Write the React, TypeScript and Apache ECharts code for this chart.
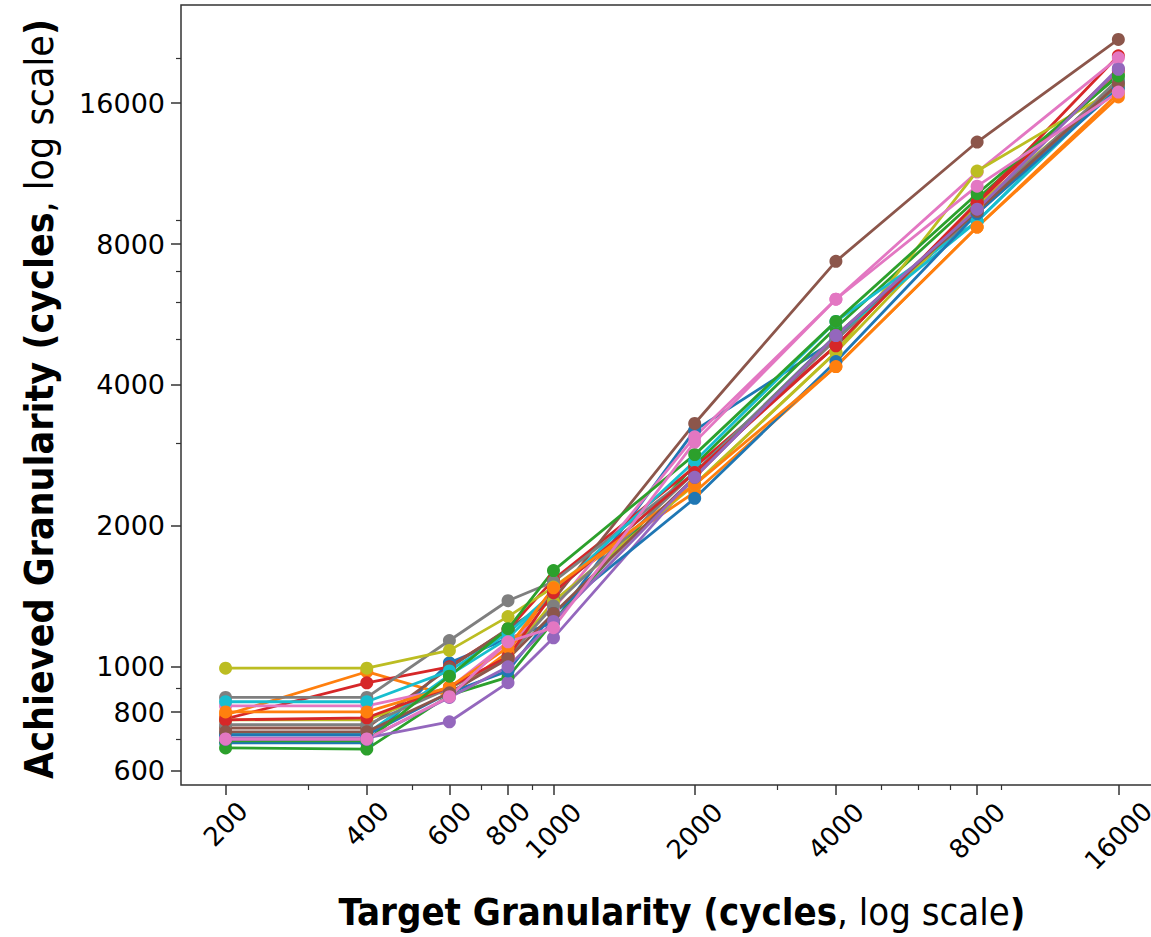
import React, { useEffect, useRef } from 'react';
import * as echarts from 'echarts';

// Target granularities (x values, cycles)
const targets = [200, 400, 600, 800, 1000, 2000, 4000, 8000, 16000];

// Tick values
const xLabels3 = [200, 400, 600, 800];
const xLabels4 = [1000, 2000, 4000, 8000];
const xLabels5 = [16000];
const xMajorTicks = [200, 400, 600, 800, 1000, 2000, 4000, 8000, 16000];
const xMinorTicks = [300, 500, 700, 900, 3000, 5000, 6000, 7000, 9000];
const yMajorTicks = [600, 800, 1000, 2000, 4000, 8000, 16000];
const yMinorTicks = [700, 900, 3000, 5000, 6000, 7000, 9000, 20000];

// Axis limits (cycles)
const xLimits = [160.7, 19920];
const yLimits = [559, 25940];

// Achieved granularity per run (y values, cycles)
const blue1 = [688, 688, 1020, 1150, 1242, 3200, 5000, 9500, 17800];
const orange1 = [789, 976, 868, 1076, 1475, 2360, 4380, 8700, 16500];
const green1 = [671, 667, 870, 950, 1250, 2700, 5300, 10000, 18400];
const red1 = [774, 924, 1000, 1200, 1535, 2670, 4850, 9800, 20200];
const purple1 = [705, 705, 763, 925, 1153, 2540, 5080, 9500, 19000];
const brown1 = [740, 740, 995, 1206, 1392, 3310, 7350, 13220, 21900];
const pink1 = [825, 825, 900, 1131, 1330, 3100, 6100, 11400, 20000];
const gray1 = [860, 860, 1138, 1384, 1520, 2600, 5000, 9300, 18000];
const olive1 = [993, 993, 1084, 1280, 1480, 2450, 4700, 11460, 17300];
const cyan1 = [842, 842, 980, 1180, 1440, 2750, 5470, 8950, 17500];
const olive2 = [770, 770, 900, 1050, 1380, 2450, 4700, 9700, 17500];
const cyan2 = [720, 720, 960, 1150, 1440, 2600, 5100, 8950, 17800];
const gray2 = [752, 752, 900, 1050, 1350, 2600, 5100, 9500, 17800];
const red2 = [770, 778, 905, 1050, 1440, 2600, 4850, 9800, 18800];
const blue2 = [715, 715, 880, 980, 1300, 2290, 4490, 9300, 17200];
const orange2 = [801, 801, 905, 1100, 1475, 2450, 4380, 8700, 16800];
const brown2 = [726, 726, 880, 1040, 1300, 2540, 5100, 9400, 17600];
const green2 = [695, 695, 955, 1206, 1605, 2840, 5470, 10250, 18300];
const purple2 = [700, 700, 860, 1000, 1250, 2540, 5100, 9500, 18900];
const pink2 = [701, 701, 863, 1131, 1212, 3020, 6100, 10640, 16900];

// Runs in drawing order, with their colour names
const runs = [
  blue1, orange1, green1, red1, purple1, brown1, pink1, gray1, olive1, cyan1,
  olive2, cyan2, gray2, red2, blue2, orange2, brown2, green2, purple2, pink2,
];
const runColors = [
  'blue', 'orange', 'green', 'red', 'purple', 'brown', 'pink', 'gray', 'olive', 'cyan',
  'olive', 'cyan', 'gray', 'red', 'blue', 'orange', 'brown', 'green', 'purple', 'pink',
];

const palette: Record<string, string> = {
  blue: '#1f77b4', orange: '#ff7f0e', green: '#2ca02c', red: '#d62728', purple: '#9467bd',
  brown: '#8c564b', pink: '#e377c2', gray: '#7f7f7f', olive: '#bcbd22', cyan: '#17becf',
};

const lg = (v: number) => Math.log2(v);
const fmt = (v: number) => String(Math.round(Math.pow(2, v)));

const AXIS_COLOR = '#333';
const TICK_FONT = { fontFamily: 'DejaVu Sans', fontSize: 27, color: '#000' };
const XTICK_FONT = { fontFamily: 'DejaVu Sans', fontSize: 26, color: '#000', lineHeight: 22 };
const TITLE_FONT = '"Liberation Sans Narrow", "DejaVu Sans Condensed", sans-serif';

export default function App() {
  const ref = useRef<HTMLDivElement>(null);

  useEffect(() => {
    if (!ref.current) return;
    const chart = echarts.init(ref.current, null, { renderer: 'svg' });

    const xRange = { type: 'value', min: lg(xLimits[0]), max: lg(xLimits[1]), position: 'bottom', offset: 0 };
    const yRange = { type: 'value', min: lg(yLimits[0]), max: lg(yLimits[1]), position: 'left', offset: 0 };
    const hidden = {
      splitLine: { show: false },
      axisLine: { show: false },
      axisTick: { show: false },
      axisLabel: { show: false },
    };

    const xLabelAxis = (vals: number[], margin: number) => ({
      ...xRange,
      ...hidden,
      axisLabel: {
        show: true,
        customValues: vals.map(lg),
        formatter: fmt,
        rotate: 45,
        align: 'center',
        verticalAlign: 'middle',
        margin,
        ...XTICK_FONT,
      },
    });

    const rich = (size: number) => ({
      b: { fontFamily: TITLE_FONT, fontWeight: 'bold', fontSize: size, color: '#000' },
      r: { fontFamily: TITLE_FONT, fontWeight: 'normal', fontSize: size, color: '#000' },
    });

    chart.setOption({
      animation: false,
      backgroundColor: '#fff',
      grid: {
        left: 181,
        top: 5,
        width: 982,
        height: 780,
        show: true,
        borderColor: AXIS_COLOR,
        borderWidth: 1.5,
        backgroundColor: 'transparent',
        containLabel: false,
        outerBoundsMode: 'none',
      },
      xAxis: [
        {
          ...xRange,
          ...hidden,
          axisTick: {
            show: true,
            customValues: xMajorTicks.map(lg),
            length: 10,
            lineStyle: { color: AXIS_COLOR, width: 1.5 },
          },
          axisLabel: {
            show: true,
            customValues: xLabels3.map(lg),
            formatter: fmt,
            rotate: 45,
            align: 'center',
            verticalAlign: 'middle',
            margin: 39,
            ...XTICK_FONT,
          },
          name: '{b|Target Granularity (cycles}{r|, log scale}{b|)}',
          nameLocation: 'middle',
          nameGap: 108,
          nameTextStyle: { rich: rich(38), padding: [0, 0, 0, 20] },
        },
        {
          ...xRange,
          ...hidden,
          axisTick: {
            show: true,
            customValues: xMinorTicks.map(lg),
            length: 5,
            lineStyle: { color: AXIS_COLOR, width: 1.2 },
          },
        },
        xLabelAxis(xLabels4, 46),
        xLabelAxis(xLabels5, 51),
      ],
      yAxis: [
        {
          ...yRange,
          ...hidden,
          axisTick: {
            show: true,
            customValues: yMajorTicks.map(lg),
            length: 10,
            lineStyle: { color: AXIS_COLOR, width: 1.5 },
          },
          axisLabel: {
            show: true,
            customValues: yMajorTicks.map(lg),
            formatter: fmt,
            margin: 16,
            ...TICK_FONT,
          },
          name: '{b|Achieved Granularity (cycles}{r|, log scale}{b|)}',
          nameLocation: 'middle',
          nameGap: 122,
          nameTextStyle: { rich: rich(39), padding: [0, 8, 0, 0] },
        },
        {
          ...yRange,
          ...hidden,
          axisTick: {
            show: true,
            customValues: yMinorTicks.map(lg),
            length: 5,
            lineStyle: { color: AXIS_COLOR, width: 1.2 },
          },
        },
      ],
      series: runs.map((vals, i) => {
        const c = palette[runColors[i]];
        return {
          type: 'line',
          xAxisIndex: 0,
          yAxisIndex: 0,
          data: targets.map((t, j) => [lg(t), lg(vals[j])]),
          symbol: 'circle',
          symbolSize: 13,
          showSymbol: true,
          silent: true,
          color: c,
          lineStyle: { width: 2.8, color: c },
          itemStyle: { color: c },
          emphasis: { disabled: true },
        };
      }),
    });

    return () => chart.dispose();
  }, []);

  return (
    <div
      ref={ref}
      style={{ position: 'fixed', left: 0, top: 0, width: 1151, height: 937, background: '#fff' }}
    />
  );
}
